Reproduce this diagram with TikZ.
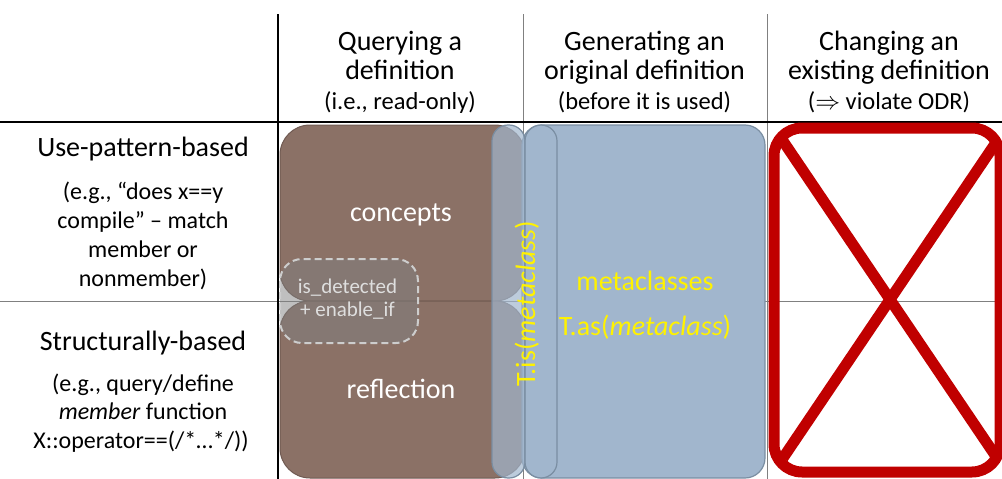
\documentclass[tikz,border=0pt]{standalone}
\usepackage{fontspec}
\setmainfont{Carlito}
\definecolor{brownbox}{RGB}{139,113,102}
\definecolor{brownedge}{RGB}{112,90,82}
\definecolor{bluebox}{RGB}{161,182,205}
\definecolor{blueedge}{RGB}{122,142,162}
\definecolor{redx}{RGB}{192,0,0}
\definecolor{gridline}{RGB}{128,128,128}
\definecolor{dashgrey}{RGB}{205,205,205}
\definecolor{labgrey}{RGB}{222,222,222}
\begin{document}
\begin{tikzpicture}[x=1pt,y=-1pt,
  thickrule/.style={line width=2.6pt,black},
  thinrule/.style={line width=0.9pt,gridline},
  brownstyle/.style={fill=brownbox,draw=brownedge,line width=1pt,rounded corners=30pt},
  bigblue/.style={fill=bluebox,draw=blueedge,line width=1.2pt,rounded corners=20pt},
  pill/.style={fill=bluebox,fill opacity=0.7,draw=blueedge,line width=1.2pt,rounded corners=16pt},
  dashbox/.style={fill=gray,fill opacity=0.5,draw=dashgrey,line width=2pt,dash pattern=on 7pt off 4pt,rounded corners=22pt},
  redline/.style={draw=redx,line width=11pt},
  hdr/.style={anchor=base,inner sep=0pt,font=\fontsize{28}{30}\selectfont},
  subhdr/.style={anchor=base,inner sep=0pt,font=\fontsize{24.5}{26}\selectfont},
  lsub/.style={anchor=base,inner sep=0pt,font=\fontsize{24}{26}\selectfont},
  boxlab/.style={anchor=base,inner sep=0pt,font=\fontsize{28}{30}\selectfont},
  smalllab/.style={anchor=base,inner sep=0pt,text=labgrey,font=\fontsize{21}{24}\selectfont}
]
\useasboundingbox (0,0) rectangle (1002,479);
% grid
\draw[thinrule] (0,301) -- (1002,301);
\draw[thinrule] (523,14) -- (523,479);
\draw[thinrule] (767,14) -- (767,479);
\draw[thickrule] (278,14) -- (278,479);
\draw[thickrule] (0,122) -- (1002,122);
% brown boxes
\draw[brownstyle] (280,125) rectangle (525,301);
\draw[brownstyle] (280,301) rectangle (525,478);
% dashed box
\draw[dashbox] (280,259) rectangle (418,343);
% blue boxes
\draw[bigblue] (522,125) rectangle (765,478);
\draw[pill] (492,125) rectangle (525,478);
\draw[pill] (525,125) rectangle (557,478);
% red crossed box
\draw[redline] (783,141) -- (997,458);
\draw[redline] (997,141) -- (783,458);
\draw[redline,rounded corners=28pt] (774,128) rectangle (1000,472);
% headers
\node[hdr] (h1a) at (400,50) {Querying a};
\node[hdr] (h1b) at (400,79) {definition};
\node[subhdr] (h1c) at (400,109) {(i.e., read-only)};
\node[hdr] (h2a) at (644.5,50) {Generating an};
\node[hdr] (h2b) at (644.5,79) {original definition};
\node[subhdr] (h2c) at (644.5,109) {(before it is used)};
\node[hdr] (h3a) at (889,50) {Changing an};
\node[hdr] (h3b) at (889,79) {existing definition};
\node[subhdr] (h3c) at (889,109) {($\Rightarrow$ violate ODR)};
% row labels
\node[hdr] (r1) at (143,156) {Use-pattern-based};
\node[lsub] (r1a) at (143,199) {(e.g., “does x==y};
\node[lsub] (r1b) at (143,228) {compile” – match};
\node[lsub] (r1c) at (143,257) {member or};
\node[lsub] (r1d) at (143,286) {nonmember)};
\node[hdr] (r2) at (143,350) {Structurally-based};
\node[lsub] (r2a) at (143,391) {(e.g., query/define};
\node[lsub] (r2b) at (143,419.5) {\textit{member} function};
\node[lsub] (r2c) at (141,448) {X::operator==(/*…*/))};
% box labels
\node[boxlab,text=white] (concepts) at (401,221) {concepts};
\node[boxlab,text=white] (reflection) at (401,398) {reflection};
\node[smalllab] (isdet) at (347.5,293) {is\_detected};
\node[smalllab] (enif) at (347.5,316) {+ enable\_if};
\node[boxlab,text=yellow] (meta) at (645,290) {metaclasses};
\node[boxlab,text=yellow] (tas) at (645,335) {T.as(\textit{metaclass})};
\node[boxlab,text=yellow,rotate=90] (tis) at (535,303.5) {T.is(\textit{metaclass})};
\end{tikzpicture}
\end{document}
